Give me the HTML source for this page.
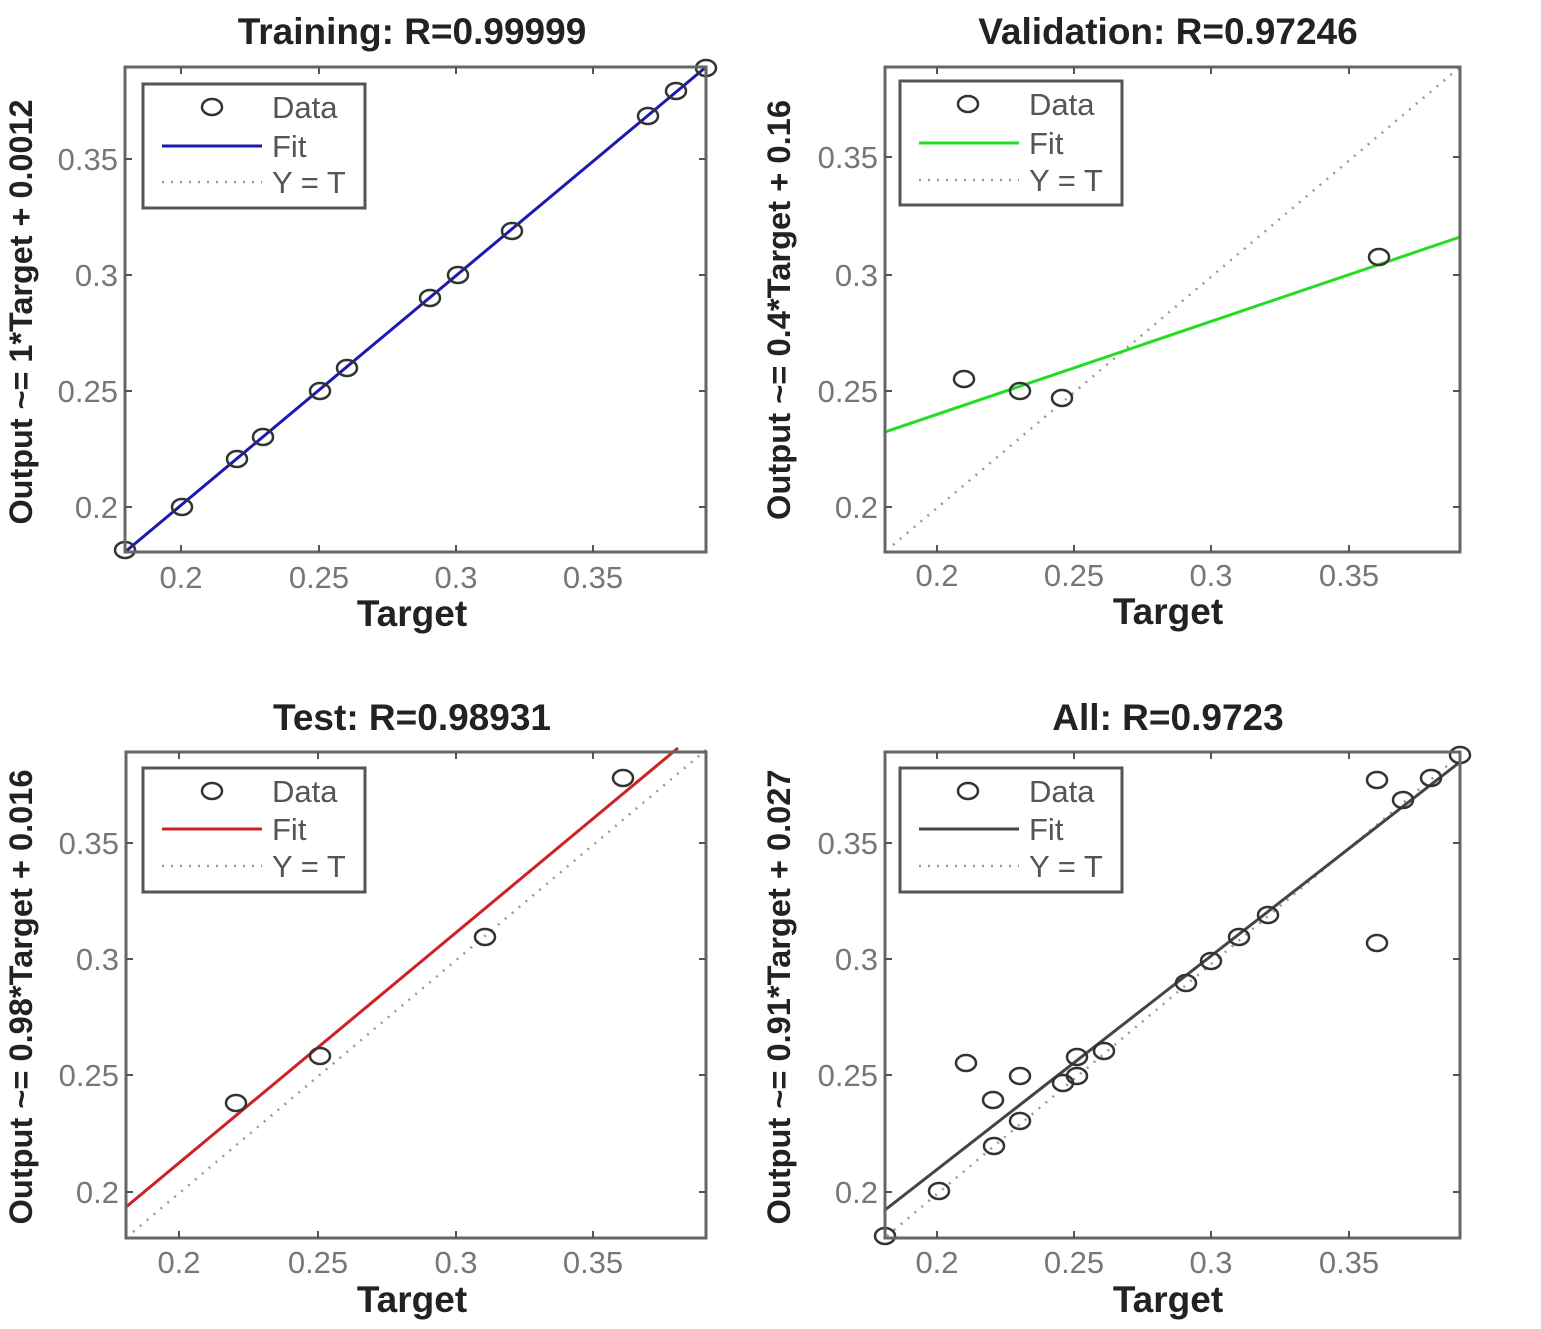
<!DOCTYPE html>
<html><head><meta charset="utf-8"><style>
html,body{margin:0;padding:0;background:#fff;}
svg{display:block;font-family:"Liberation Sans",Arial,sans-serif;}
.t{font-weight:bold;font-size:37px;fill:#222;text-anchor:middle;}
.ax{font-weight:bold;font-size:37px;fill:#222;text-anchor:middle;}
.yl{font-weight:bold;font-size:32px;fill:#222;text-anchor:middle;}
.tk{font-size:31px;fill:#777;}
.lg{font-size:31px;fill:#555;}
.box{fill:none;stroke:#666;stroke-width:3;}
.lbox{fill:#fff;stroke:#555;stroke-width:3;}
.m{fill:none;stroke:#333;stroke-width:2.5;}
.dot{stroke:#999;stroke-width:2.5;stroke-dasharray:2,7;fill:none;}
.tick{stroke:#555;stroke-width:2;}
</style></head><body>
<svg width="1541" height="1329" viewBox="0 0 1541 1329" xmlns="http://www.w3.org/2000/svg">

<!-- Panel 1 Training -->
<text class="t" x="412" y="44">Training: R=0.99999</text>
<line class="dot" x1="125" y1="552" x2="706" y2="67"/>
<line x1="125" y1="552" x2="706" y2="67" stroke="#1a1ab0" stroke-width="3"/>
<g class="m">
<ellipse cx="125" cy="550" rx="10" ry="8"/><ellipse cx="182" cy="507" rx="10" ry="8"/>
<ellipse cx="237" cy="459" rx="10" ry="8"/><ellipse cx="263" cy="437" rx="10" ry="8"/>
<ellipse cx="320" cy="391" rx="10" ry="8"/><ellipse cx="347" cy="368" rx="10" ry="8"/>
<ellipse cx="430" cy="298" rx="10" ry="8"/><ellipse cx="458" cy="275" rx="10" ry="8"/>
<ellipse cx="512" cy="231" rx="10" ry="8"/><ellipse cx="648" cy="116" rx="10" ry="8"/>
<ellipse cx="676" cy="91" rx="10" ry="8"/><ellipse cx="706" cy="68" rx="10" ry="8"/>
</g>
<rect class="box" x="125" y="67" width="581" height="485"/>
<g class="tick">
<line x1="181" y1="552" x2="181" y2="545"/><line x1="319" y1="552" x2="319" y2="545"/><line x1="456" y1="552" x2="456" y2="545"/><line x1="593" y1="552" x2="593" y2="545"/>
<line x1="181" y1="67" x2="181" y2="74"/><line x1="319" y1="67" x2="319" y2="74"/><line x1="456" y1="67" x2="456" y2="74"/><line x1="593" y1="67" x2="593" y2="74"/>
<line x1="125" y1="159" x2="132" y2="159"/><line x1="125" y1="275" x2="132" y2="275"/><line x1="125" y1="391" x2="132" y2="391"/><line x1="125" y1="507" x2="132" y2="507"/>
<line x1="706" y1="159" x2="699" y2="159"/><line x1="706" y1="275" x2="699" y2="275"/><line x1="706" y1="391" x2="699" y2="391"/><line x1="706" y1="507" x2="699" y2="507"/>
</g>
<text class="tk" x="181" y="588" text-anchor="middle">0.2</text><text class="tk" x="319" y="588" text-anchor="middle">0.25</text><text class="tk" x="456" y="588" text-anchor="middle">0.3</text><text class="tk" x="593" y="588" text-anchor="middle">0.35</text>
<text class="tk" x="118" y="170" text-anchor="end">0.35</text><text class="tk" x="118" y="286" text-anchor="end">0.3</text><text class="tk" x="118" y="402" text-anchor="end">0.25</text><text class="tk" x="118" y="518" text-anchor="end">0.2</text>
<text class="ax" x="412" y="626">Target</text>
<text class="yl" transform="translate(32,312) rotate(-90)" textLength="425" lengthAdjust="spacingAndGlyphs">Output ~= 1*Target + 0.0012</text>
<rect class="lbox" x="143" y="84" width="222" height="124"/>
<ellipse class="m" cx="212" cy="107" rx="10" ry="8"/>
<text class="lg" x="272" y="118">Data</text>
<line x1="162" y1="146" x2="262" y2="146" stroke="#1a1ab0" stroke-width="3"/>
<text class="lg" x="272" y="157">Fit</text>
<line class="dot" x1="162" y1="182" x2="262" y2="182"/>
<text class="lg" x="272" y="193">Y = T</text>

<!-- Panel 2 Validation -->
<text class="t" x="1168" y="44">Validation: R=0.97246</text>
<line class="dot" x1="893" y1="545" x2="1460" y2="67"/>
<line x1="885" y1="432" x2="1460" y2="237" stroke="#22dd22" stroke-width="3"/>
<g class="m">
<ellipse cx="964" cy="379" rx="10" ry="8"/><ellipse cx="1020" cy="391" rx="10" ry="8"/>
<ellipse cx="1062" cy="398" rx="10" ry="8"/><ellipse cx="1379" cy="257" rx="10" ry="8"/>
</g>
<rect class="box" x="885" y="67" width="575" height="485"/>
<g class="tick">
<line x1="937" y1="552" x2="937" y2="545"/><line x1="1074" y1="552" x2="1074" y2="545"/><line x1="1211" y1="552" x2="1211" y2="545"/><line x1="1349" y1="552" x2="1349" y2="545"/>
<line x1="937" y1="67" x2="937" y2="74"/><line x1="1074" y1="67" x2="1074" y2="74"/><line x1="1211" y1="67" x2="1211" y2="74"/><line x1="1349" y1="67" x2="1349" y2="74"/>
<line x1="885" y1="157" x2="892" y2="157"/><line x1="885" y1="275" x2="892" y2="275"/><line x1="885" y1="391" x2="892" y2="391"/><line x1="885" y1="507" x2="892" y2="507"/>
<line x1="1460" y1="157" x2="1453" y2="157"/><line x1="1460" y1="275" x2="1453" y2="275"/><line x1="1460" y1="391" x2="1453" y2="391"/><line x1="1460" y1="507" x2="1453" y2="507"/>
</g>
<text class="tk" x="937" y="586" text-anchor="middle">0.2</text><text class="tk" x="1074" y="586" text-anchor="middle">0.25</text><text class="tk" x="1211" y="586" text-anchor="middle">0.3</text><text class="tk" x="1349" y="586" text-anchor="middle">0.35</text>
<text class="tk" x="878" y="168" text-anchor="end">0.35</text><text class="tk" x="878" y="286" text-anchor="end">0.3</text><text class="tk" x="878" y="402" text-anchor="end">0.25</text><text class="tk" x="878" y="518" text-anchor="end">0.2</text>
<text class="ax" x="1168" y="624">Target</text>
<text class="yl" transform="translate(790,310) rotate(-90)" textLength="420" lengthAdjust="spacingAndGlyphs">Output ~= 0.4*Target + 0.16</text>
<rect class="lbox" x="900" y="81" width="222" height="124"/>
<ellipse class="m" cx="968" cy="104" rx="10" ry="8"/>
<text class="lg" x="1029" y="115">Data</text>
<line x1="919" y1="143" x2="1019" y2="143" stroke="#22dd22" stroke-width="3"/>
<text class="lg" x="1029" y="154">Fit</text>
<line class="dot" x1="919" y1="180" x2="1019" y2="180"/>
<text class="lg" x="1029" y="191">Y = T</text>

<!-- Panel 3 Test -->
<text class="t" x="412" y="730">Test: R=0.98931</text>
<line class="dot" x1="133" y1="1232" x2="706" y2="750"/>
<line x1="126" y1="1207" x2="678" y2="748" stroke="#cc2222" stroke-width="3"/>
<g class="m">
<ellipse cx="236" cy="1103" rx="10" ry="8"/><ellipse cx="320" cy="1056" rx="10" ry="8"/>
<ellipse cx="485" cy="937" rx="10" ry="8"/><ellipse cx="623" cy="778" rx="10" ry="8"/>
</g>
<rect class="box" x="126" y="752" width="580" height="486"/>
<g class="tick">
<line x1="179" y1="1238" x2="179" y2="1231"/><line x1="318" y1="1238" x2="318" y2="1231"/><line x1="456" y1="1238" x2="456" y2="1231"/><line x1="593" y1="1238" x2="593" y2="1231"/>
<line x1="179" y1="752" x2="179" y2="759"/><line x1="318" y1="752" x2="318" y2="759"/><line x1="456" y1="752" x2="456" y2="759"/><line x1="593" y1="752" x2="593" y2="759"/>
<line x1="126" y1="843" x2="133" y2="843"/><line x1="126" y1="959" x2="133" y2="959"/><line x1="126" y1="1075" x2="133" y2="1075"/><line x1="126" y1="1192" x2="133" y2="1192"/>
<line x1="706" y1="843" x2="699" y2="843"/><line x1="706" y1="959" x2="699" y2="959"/><line x1="706" y1="1075" x2="699" y2="1075"/><line x1="706" y1="1192" x2="699" y2="1192"/>
</g>
<text class="tk" x="179" y="1273" text-anchor="middle">0.2</text><text class="tk" x="318" y="1273" text-anchor="middle">0.25</text><text class="tk" x="456" y="1273" text-anchor="middle">0.3</text><text class="tk" x="593" y="1273" text-anchor="middle">0.35</text>
<text class="tk" x="119" y="854" text-anchor="end">0.35</text><text class="tk" x="119" y="970" text-anchor="end">0.3</text><text class="tk" x="119" y="1086" text-anchor="end">0.25</text><text class="tk" x="119" y="1203" text-anchor="end">0.2</text>
<text class="ax" x="412" y="1312">Target</text>
<text class="yl" transform="translate(32,997) rotate(-90)" textLength="455" lengthAdjust="spacingAndGlyphs">Output ~= 0.98*Target + 0.016</text>
<rect class="lbox" x="143" y="768" width="222" height="124"/>
<ellipse class="m" cx="212" cy="791" rx="10" ry="8"/>
<text class="lg" x="272" y="802">Data</text>
<line x1="162" y1="829" x2="262" y2="829" stroke="#cc2222" stroke-width="3"/>
<text class="lg" x="272" y="840">Fit</text>
<line class="dot" x1="162" y1="866" x2="262" y2="866"/>
<text class="lg" x="272" y="877">Y = T</text>

<!-- Panel 4 All -->
<text class="t" x="1168" y="730">All: R=0.9723</text>
<line class="dot" x1="887" y1="1236" x2="1460" y2="755"/>
<line x1="885" y1="1210" x2="1460" y2="762" stroke="#444" stroke-width="3"/>
<g class="m">
<ellipse cx="885" cy="1236" rx="10" ry="8"/><ellipse cx="939" cy="1191" rx="10" ry="8"/>
<ellipse cx="966" cy="1063" rx="10" ry="8"/><ellipse cx="993" cy="1100" rx="10" ry="8"/>
<ellipse cx="994" cy="1146" rx="10" ry="8"/><ellipse cx="1020" cy="1076" rx="10" ry="8"/>
<ellipse cx="1020" cy="1121" rx="10" ry="8"/><ellipse cx="1063" cy="1083" rx="10" ry="8"/>
<ellipse cx="1077" cy="1057" rx="10" ry="8"/><ellipse cx="1077" cy="1076" rx="10" ry="8"/>
<ellipse cx="1104" cy="1051" rx="10" ry="8"/><ellipse cx="1186" cy="983" rx="10" ry="8"/>
<ellipse cx="1211" cy="961" rx="10" ry="8"/><ellipse cx="1239" cy="937" rx="10" ry="8"/>
<ellipse cx="1268" cy="915" rx="10" ry="8"/><ellipse cx="1377" cy="943" rx="10" ry="8"/>
<ellipse cx="1377" cy="780" rx="10" ry="8"/><ellipse cx="1403" cy="800" rx="10" ry="8"/>
<ellipse cx="1431" cy="778" rx="10" ry="8"/><ellipse cx="1460" cy="755" rx="10" ry="8"/>
</g>
<rect class="box" x="885" y="752" width="575" height="486"/>
<g class="tick">
<line x1="937" y1="1238" x2="937" y2="1231"/><line x1="1074" y1="1238" x2="1074" y2="1231"/><line x1="1211" y1="1238" x2="1211" y2="1231"/><line x1="1349" y1="1238" x2="1349" y2="1231"/>
<line x1="937" y1="752" x2="937" y2="759"/><line x1="1074" y1="752" x2="1074" y2="759"/><line x1="1211" y1="752" x2="1211" y2="759"/><line x1="1349" y1="752" x2="1349" y2="759"/>
<line x1="885" y1="843" x2="892" y2="843"/><line x1="885" y1="959" x2="892" y2="959"/><line x1="885" y1="1075" x2="892" y2="1075"/><line x1="885" y1="1192" x2="892" y2="1192"/>
<line x1="1460" y1="843" x2="1453" y2="843"/><line x1="1460" y1="959" x2="1453" y2="959"/><line x1="1460" y1="1075" x2="1453" y2="1075"/><line x1="1460" y1="1192" x2="1453" y2="1192"/>
</g>
<text class="tk" x="937" y="1273" text-anchor="middle">0.2</text><text class="tk" x="1074" y="1273" text-anchor="middle">0.25</text><text class="tk" x="1211" y="1273" text-anchor="middle">0.3</text><text class="tk" x="1349" y="1273" text-anchor="middle">0.35</text>
<text class="tk" x="878" y="854" text-anchor="end">0.35</text><text class="tk" x="878" y="970" text-anchor="end">0.3</text><text class="tk" x="878" y="1086" text-anchor="end">0.25</text><text class="tk" x="878" y="1203" text-anchor="end">0.2</text>
<text class="ax" x="1168" y="1312">Target</text>
<text class="yl" transform="translate(790,997) rotate(-90)" textLength="455" lengthAdjust="spacingAndGlyphs">Output ~= 0.91*Target + 0.027</text>
<rect class="lbox" x="900" y="768" width="222" height="124"/>
<ellipse class="m" cx="968" cy="791" rx="10" ry="8"/>
<text class="lg" x="1029" y="802">Data</text>
<line x1="919" y1="829" x2="1019" y2="829" stroke="#444" stroke-width="3"/>
<text class="lg" x="1029" y="840">Fit</text>
<line class="dot" x1="919" y1="866" x2="1019" y2="866"/>
<text class="lg" x="1029" y="877">Y = T</text>
</svg>
</body></html>
